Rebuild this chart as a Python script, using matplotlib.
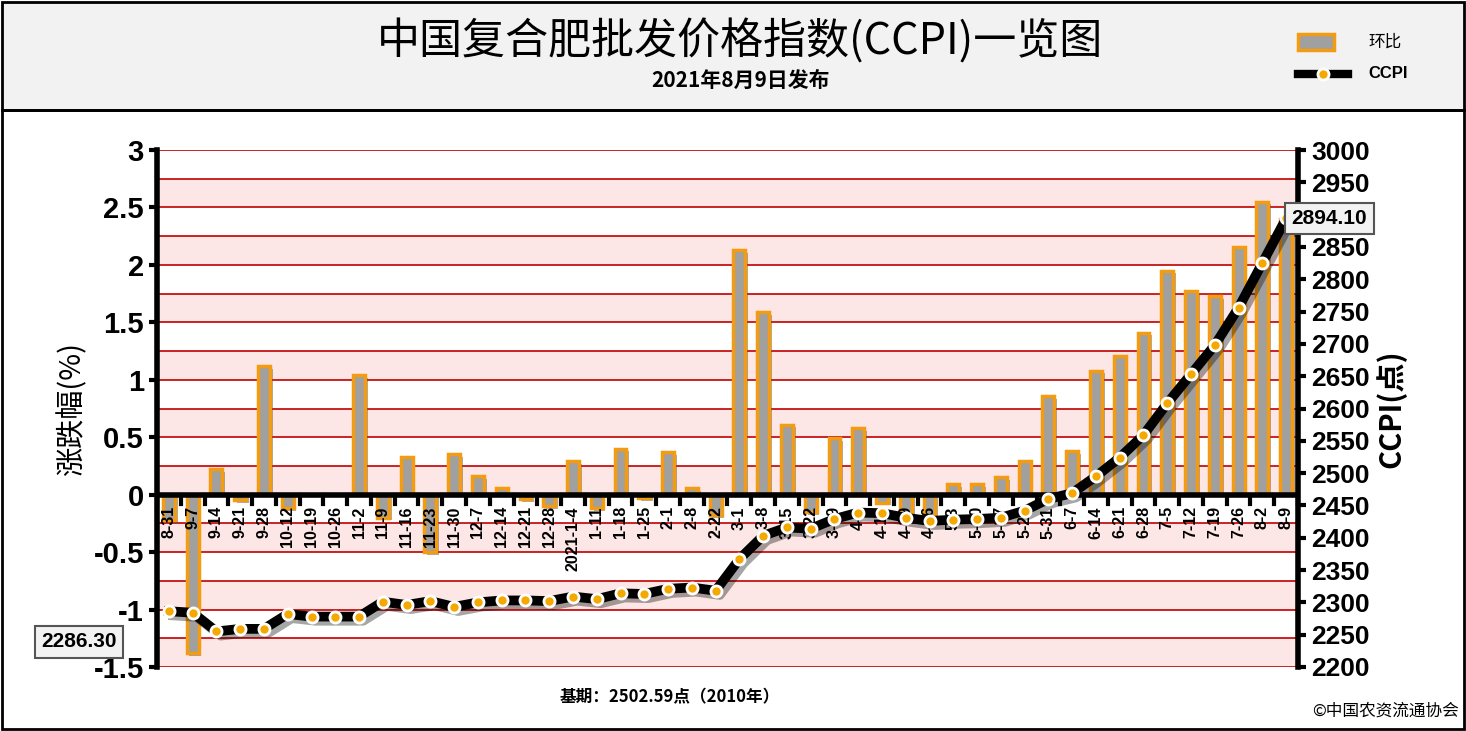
import matplotlib
matplotlib.use("Agg")
import matplotlib.pyplot as plt
import matplotlib.patheffects as pe
from matplotlib.patches import Rectangle

plt.rcParams['font.family'] = ['Noto Sans CJK SC', 'DejaVu Sans']
LAT = 'Liberation Sans'

dates = ["8-31","9-7","9-14","9-21","9-28","10-12","10-19","10-26","11-2","11-9","11-16","11-23",
         "11-30","12-7","12-14","12-21","12-28","2021-1-4","1-11","1-18","1-25","2-1","2-8","2-22",
         "3-1","3-8","3-15","3-22","3-29","4-5","4-12","4-19","4-26","5-3","5-10","5-17","5-24",
         "5-31","6-7","6-14","6-21","6-28","7-5","7-12","7-19","7-26","8-2","8-9"]
change = [-0.22,-1.38,0.22,-0.05,1.12,-0.12,0.0,0.0,1.04,-0.2,0.33,-0.5,
          0.35,0.16,0.06,-0.04,-0.1,0.29,-0.12,0.4,-0.03,0.37,0.06,-0.18,
          2.13,1.59,0.61,-0.15,0.49,0.58,-0.07,-0.17,-0.2,0.09,0.09,0.15,0.29,
          0.86,0.38,1.08,1.21,1.41,1.95,1.77,1.73,2.16,2.55,2.40]
ccpi = [2286.3,2284,2255,2259,2259,2282,2278,2278,2278,2301,2296,2302,
        2293,2300,2303,2303,2302,2309,2305,2314,2313,2321,2323,2318,
        2367,2403,2416,2414,2429,2439,2438,2431,2426,2428,2429,2431,2442,
        2460,2469,2495,2524,2559,2608,2653,2698,2756,2825,2894.1]

fig = plt.figure(figsize=(14.66, 7.31), dpi=100)
W, H = 1466, 731
fig.patches.append(Rectangle((2/W, 1-110/H), 1-4/W, 108/H, transform=fig.transFigure,
                             facecolor='#f2f2f2', edgecolor='black', lw=2, zorder=-10))
fig.patches.append(Rectangle((2/W, 2/H), 1-4/W, 1-112/H, transform=fig.transFigure,
                             facecolor='none', edgecolor='black', lw=2, zorder=-10))
fig.text(0.505, 1-42/H, "中国复合肥批发价格指数(CCPI)一览图", ha='center', va='center',
         fontsize=31, fontweight='medium')
fig.text(0.505, 1-80/H, "2021年8月9日发布", ha='center', va='center', fontsize=15, fontweight='bold')
fig.text(0.457, 1-697/H, "基期：2502.59点（2010年）", ha='center', va='center', fontsize=12, fontweight='bold')
fig.text(0.995, 1-711/H, "©中国农资流通协会", ha='right', va='center', fontsize=12)

# legend
fig.patches.append(Rectangle((1298/W, 1-50/H), 36/W, 16/H, transform=fig.transFigure,
                             facecolor='#a0a0a0', edgecolor='#f39c12', lw=2.5))
fig.text(1368/W, 1-42/H, "环比", va='center', fontsize=12)
fig.lines.append(plt.Line2D([1298/W, 1348/W], [1-74/H]*2, transform=fig.transFigure,
                            color='black', lw=6))
fig.lines.append(plt.Line2D([1323/W], [1-74/H], transform=fig.transFigure, marker='o',
                            markersize=8, markerfacecolor='#f5a800', markeredgecolor='white', mew=2))
fig.text(1368/W, 1-74/H, "CCPI", va='center', fontsize=12, fontweight='bold', family=LAT)

ax = fig.add_axes([157/W, 1-667/H, (1298-157)/W, (667-150)/H])
n = len(dates)
x = list(range(n))
ax.set_xlim(-0.5, n-0.5)
ax.set_ylim(-1.5, 3)
for k in range(-6, 12):
    lo = k*0.25
    if k % 2 == 0:
        ax.axhspan(lo, lo+0.25, color='#fde6e6', zorder=0, lw=0)
for k in range(-6, 13):
    ax.axhline(k*0.25, color='#c00000', lw=1.2, zorder=1)
ax.bar(x, change, width=0.5, facecolor='#a0a0a0', edgecolor='#f39c12', lw=2.5, zorder=3,
       path_effects=[pe.SimplePatchShadow(offset=(2,-2), alpha=0.4), pe.Normal()])
ax.axhline(0, color='black', lw=4, zorder=4)
for i in range(n+1):
    ax.plot([i-0.5, i-0.5], [0, -0.08], color='black', lw=3, zorder=4)
for i, d in enumerate(dates):
    ax.text(i, -0.1, d, rotation=90, ha='center', va='top', fontsize=11.5, fontweight='bold',
            family=LAT, zorder=6)
ax.set_xticks([])
ax.set_yticks([3,2.5,2,1.5,1,0.5,0,-0.5,-1,-1.5])
ax.set_yticklabels(["3","2.5","2","1.5","1","0.5","0","-0.5","-1","-1.5"])
for s in ['top','bottom','right']:
    ax.spines[s].set_visible(False)
ax.spines['left'].set_linewidth(4)
ax.tick_params(axis='y', labelsize=21, width=3, length=6)
for t in ax.get_yticklabels():
    t.set_fontweight('bold')
    t.set_family(LAT)
ax.set_ylabel("涨跌幅(%)", fontsize=21)

ax2 = ax.twinx()
ax2.set_ylim(2200, 3000)
ax2.set_yticks(range(2200, 3001, 50))
ax2.plot(x, ccpi, color='black', lw=7, zorder=5, solid_joinstyle='round',
         path_effects=[pe.SimpleLineShadow(offset=(3,-3), alpha=0.35), pe.Normal()])
ax2.plot(x, ccpi, 'o', markersize=8, markerfacecolor='#f5a800', markeredgecolor='white', mew=2, zorder=6)
for s in ['top','bottom','left']:
    ax2.spines[s].set_visible(False)
ax2.spines['right'].set_linewidth(4)
ax2.tick_params(axis='y', labelsize=19, width=3, length=6)
for t in ax2.get_yticklabels():
    t.set_fontweight('bold')
    t.set_family(LAT)
ax2.set_ylabel("CCPI(点)", fontsize=21, fontweight='bold')
box = dict(boxstyle='square,pad=0.3', facecolor='#f2f2f2', edgecolor='#555555', lw=1.5)
ax2.annotate("2286.30", (x[0], ccpi[0]), xytext=(-92, -22), textcoords='offset points',
             fontsize=15, fontweight='bold', bbox=box, family=LAT, va='center')
ax2.annotate("2894.10", (x[-1], ccpi[-1]), xytext=(4, 0), textcoords='offset points',
             fontsize=15, fontweight='bold', bbox=box, family=LAT, va='center',
             zorder=10, annotation_clip=False)

fig.savefig("out.png", dpi=100)
